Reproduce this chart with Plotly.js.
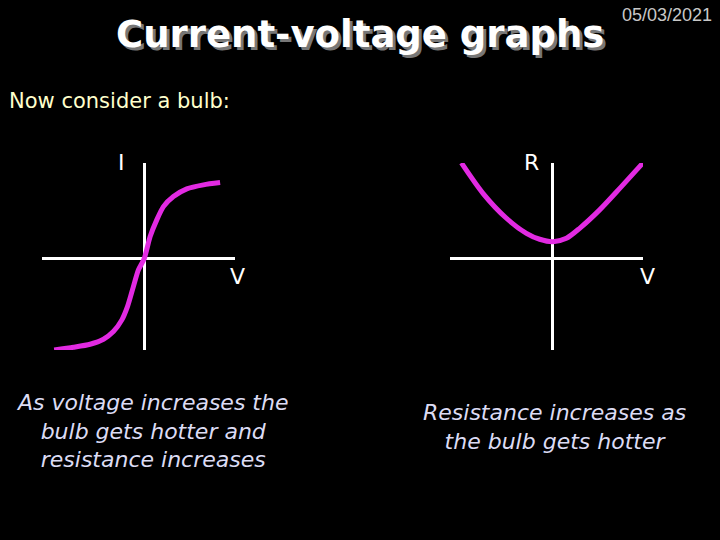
<!DOCTYPE html>
<html><head><meta charset="utf-8">
<script src="https://cdn.plot.ly/plotly-3.0.1.min.js"></script>
<style>html,body{margin:0;padding:0;background:#000;}#chart{width:720px;height:540px;}</style>
</head><body><div id="chart"></div>
<script>
// Left graph: current (I) vs voltage (V) for a bulb
const ivVoltage = [-0.881, -0.692, -0.529, -0.398, -0.301, -0.218, -0.163, -0.105, -0.056, 0, 0.059, 0.124, 0.189, 0.287, 0.418, 0.581, 0.744];
const ivCurrent = [-0.949, -0.921, -0.890, -0.838, -0.758, -0.636, -0.498, -0.289, -0.115, 0, 0.233, 0.407, 0.545, 0.650, 0.730, 0.772, 0.796];
// Right graph: resistance (R) vs voltage (V)
const rvVoltage = [-0.889, -0.680, -0.452, -0.258, -0.129, 0, 0.130, 0.259, 0.453, 0.664, 0.874];
const rvResist  = [1.001, 0.684, 0.424, 0.267, 0.205, 0.180, 0.215, 0.319, 0.511, 0.754, 1.001];

const titleText = "Current-voltage graphs";
const dateText = "05/03/2021";
const introText = "Now consider a bulb:";
const leftCaption = "As voltage increases the<br>bulb gets hotter and<br>resistance increases";
const rightCaption = "Resistance increases as<br>the bulb gets hotter";
const axisLabels = {leftY: "I", leftX: "V", rightY: "R", rightX: "V"};

const W = 720, H = 540;
const px = x => x / W;
const py = y => 1 - y / H;
const curveColor = "#e22ae2";

const hiddenAxis = (domain, range) => ({
  domain: domain, range: range, showgrid: false, showticklabels: false, ticks: "",
  showline: false, zeroline: true, zerolinecolor: "#ffffff", zerolinewidth: 3, fixedrange: true
});

const traces = [
  {x: ivVoltage, y: ivCurrent, xaxis: "x", yaxis: "y", mode: "lines",
   line: {color: curveColor, width: 5, shape: "spline", smoothing: 0.7}, hoverinfo: "skip"},
  {x: rvVoltage, y: rvResist, xaxis: "x2", yaxis: "y2", mode: "lines",
   line: {color: curveColor, width: 5, shape: "spline", smoothing: 0.8}, hoverinfo: "skip"}
];

const labelFont = {family: "DejaVu Sans", size: 22, color: "#ffffff"};
const captionFont = {family: "DejaVu Sans", size: 22, color: "#dcdcf4", style: "italic"};

const ann = (text, x, y, font, extra) => Object.assign({
  text: text, xref: "paper", yref: "paper", x: px(x), y: py(y), showarrow: false,
  font: font, xanchor: "center", yanchor: "middle"
}, extra || {});

const layout = {
  width: W, height: H, margin: {l: 0, r: 0, t: 0, b: 0},
  paper_bgcolor: "#000000", plot_bgcolor: "#000000", showlegend: false,
  xaxis: hiddenAxis([px(42), px(235)], [-1, 0.89]),
  yaxis: hiddenAxis([py(350), py(163)], [-0.95, 1]),
  xaxis2: Object.assign(hiddenAxis([px(450), px(643)], [-1, 0.874]), {anchor: "y2"}),
  yaxis2: Object.assign(hiddenAxis([py(350), py(163)], [-0.95, 1]), {anchor: "x2"}),
  annotations: [
    ann(titleText, 360, 34, {family: "DejaVu Sans", size: 37, color: "#ffffff", weight: "bold",
        shadow: "3px 3px 0px #777777"}),
    ann(dateText, 667, 15, {family: "Liberation Sans", size: 18, color: "#c8c8c8"}),
    ann(introText, 7, 101, {family: "DejaVu Sans", size: 21, color: "#ffffcc"}, {xanchor: "left"}),
    ann(axisLabels.leftY, 121, 162, labelFont),
    ann(axisLabels.leftX, 237, 276, labelFont),
    ann(axisLabels.rightY, 531, 162, labelFont),
    ann(axisLabels.rightX, 647, 276, labelFont),
    ann(leftCaption, 152, 431, captionFont, {align: "center"}),
    ann(rightCaption, 554, 427, captionFont, {align: "center"})
  ]
};

Plotly.newPlot("chart", traces, layout, {staticPlot: true, displayModeBar: false});
</script>
</body></html>
